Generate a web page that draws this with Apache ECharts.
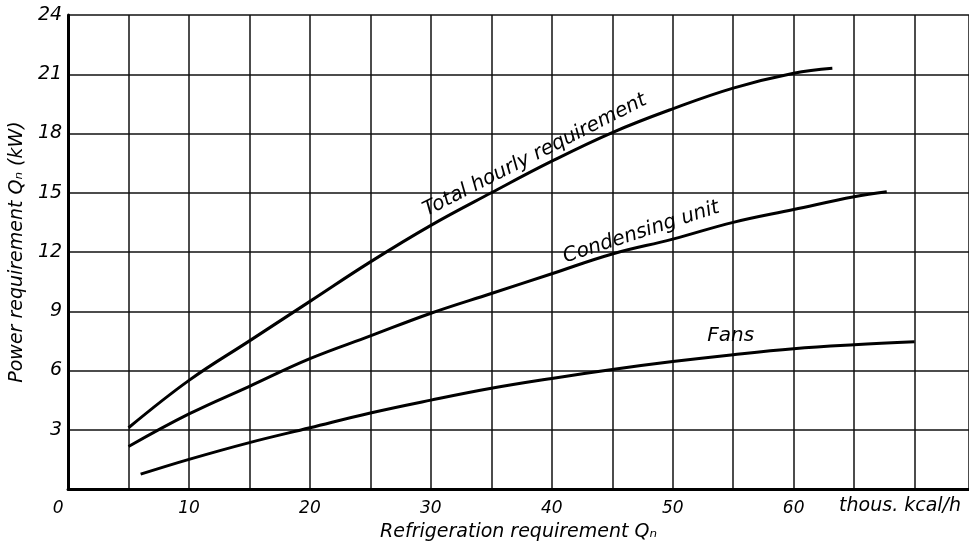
<!DOCTYPE html>
<html>
<head>
<meta charset="utf-8">
<script src="https://cdn.jsdelivr.net/npm/echarts@6/dist/echarts.min.js"></script>
<style>
html,body{margin:0;padding:0;background:#fff;}
#chart{width:969px;height:547px;}
</style>
</head>
<body>
<div id="chart"></div>
<script>
// ---- data ----
var xTotal = [5, 10, 15, 20, 25, 30, 35, 40, 45, 50, 55, 60, 63.2];
var yTotal = [3.1, 5.5, 7.5, 9.5, 11.5, 13.35, 15.0, 16.6, 18.05, 19.25, 20.3, 21.05, 21.3];

var xCond = [5, 10, 15, 20, 25, 30, 35, 40, 45, 50, 55, 60, 65, 67.7];
var yCond = [2.15, 3.8, 5.2, 6.6, 7.75, 8.9, 9.9, 10.9, 11.9, 12.65, 13.5, 14.15, 14.8, 15.05];

var xFans = [6, 10, 15, 20, 25, 30, 35, 40, 45, 50, 55, 60, 65, 70];
var yFans = [0.75, 1.5, 2.35, 3.1, 3.85, 4.5, 5.1, 5.6, 6.05, 6.45, 6.8, 7.1, 7.3, 7.45];

var xTickLabels = [0, 10, 20, 30, 40, 50, 60];
var yTickLabels = [0, 3, 6, 9, 12, 15, 18, 21, 24];

var seriesNames = ['Total hourly requirement', 'Condensing unit', 'Fans'];
var unitLabel = 'thous. kcal/h';
var xTitle = 'Refrigeration requirement Q\u2099';
var yTitle = 'Power requirement Q\u2099 (kW)';

// label anchor points in data coordinates [x, y, rotationDeg]
var curveLabelPos = [[38.6, 16.9, 27], [47.4, 13.0, 18], [54.8, 7.75, 0]];
var unitLabelPos = [68.8, 0];

function pairs(xs, ys) { return xs.map(function (x, i) { return [x, ys[i]]; }); }

var FONT = 'DejaVu Sans';
var chart = echarts.init(document.getElementById('chart'));
var lineStyle = { color: '#000', width: 3 };

chart.setOption({
  animation: false,
  backgroundColor: '#fff',
  grid: { left: 68, right: 0, top: 15, bottom: 52, containLabel: false },
  xAxis: {
    type: 'value', min: 0, max: 74.5, interval: 5,
    axisLine: { show: true, lineStyle: { color: '#000', width: 3 } },
    axisTick: { show: false },
    splitLine: { show: true, lineStyle: { color: '#111', width: 1.5 } },
    axisLabel: {
      showMaxLabel: false,
      color: '#000', fontFamily: FONT, fontStyle: 'italic', fontSize: 17, margin: 11,
      formatter: function (v) {
        if (xTickLabels.indexOf(v) < 0) return '';
        return v === 0 ? '{z|0}' : String(v);
      },
      rich: { z: { fontFamily: FONT, fontStyle: 'italic', fontSize: 17, color: '#000', padding: [0, 20, 0, 0] } }
    },
    name: xTitle, nameLocation: 'middle', nameGap: 34,
    nameTextStyle: { color: '#000', fontFamily: FONT, fontStyle: 'italic', fontSize: 19 }
  },
  yAxis: {
    type: 'value', min: 0, max: 24, interval: 3,
    axisLine: { show: true, lineStyle: { color: '#000', width: 3 } },
    axisTick: { show: false },
    splitLine: { show: true, lineStyle: { color: '#111', width: 1.5 } },
    axisLabel: {
      color: '#000', fontFamily: FONT, fontStyle: 'italic', fontSize: 19, margin: 6,
      formatter: function (v) { return (yTickLabels.indexOf(v) >= 0 && v !== 0) ? String(v) : ''; }
    },
    name: yTitle, nameLocation: 'middle', nameGap: 36,
    nameTextStyle: { color: '#000', fontFamily: FONT, fontStyle: 'italic', fontSize: 19 }
  },
  series: [
    { name: seriesNames[0], type: 'line', smooth: 0.4, symbol: 'none', lineStyle: lineStyle, data: pairs(xTotal, yTotal) },
    { name: seriesNames[1], type: 'line', smooth: 0.4, symbol: 'none', lineStyle: lineStyle, data: pairs(xCond, yCond) },
    { name: seriesNames[2], type: 'line', smooth: 0.4, symbol: 'none', lineStyle: lineStyle, data: pairs(xFans, yFans) }
  ]
});

var graphics = curveLabelPos.map(function (p, i) {
  var px = chart.convertToPixel({ gridIndex: 0 }, [p[0], p[1]]);
  return {
    type: 'text', x: px[0], y: px[1], rotation: p[2] * Math.PI / 180,
    style: { text: seriesNames[i], fill: '#000', font: 'italic 20px "' + FONT + '"', align: 'center', verticalAlign: 'middle' }
  };
});
var up = chart.convertToPixel({ gridIndex: 0 }, unitLabelPos);
graphics.push({
  type: 'text', x: up[0], y: up[1] + 17,
  style: { text: unitLabel, fill: '#000', font: 'italic 19px "' + FONT + '"', align: 'center', verticalAlign: 'middle' }
});
chart.setOption({ graphic: graphics });
</script>
</body>
</html>
